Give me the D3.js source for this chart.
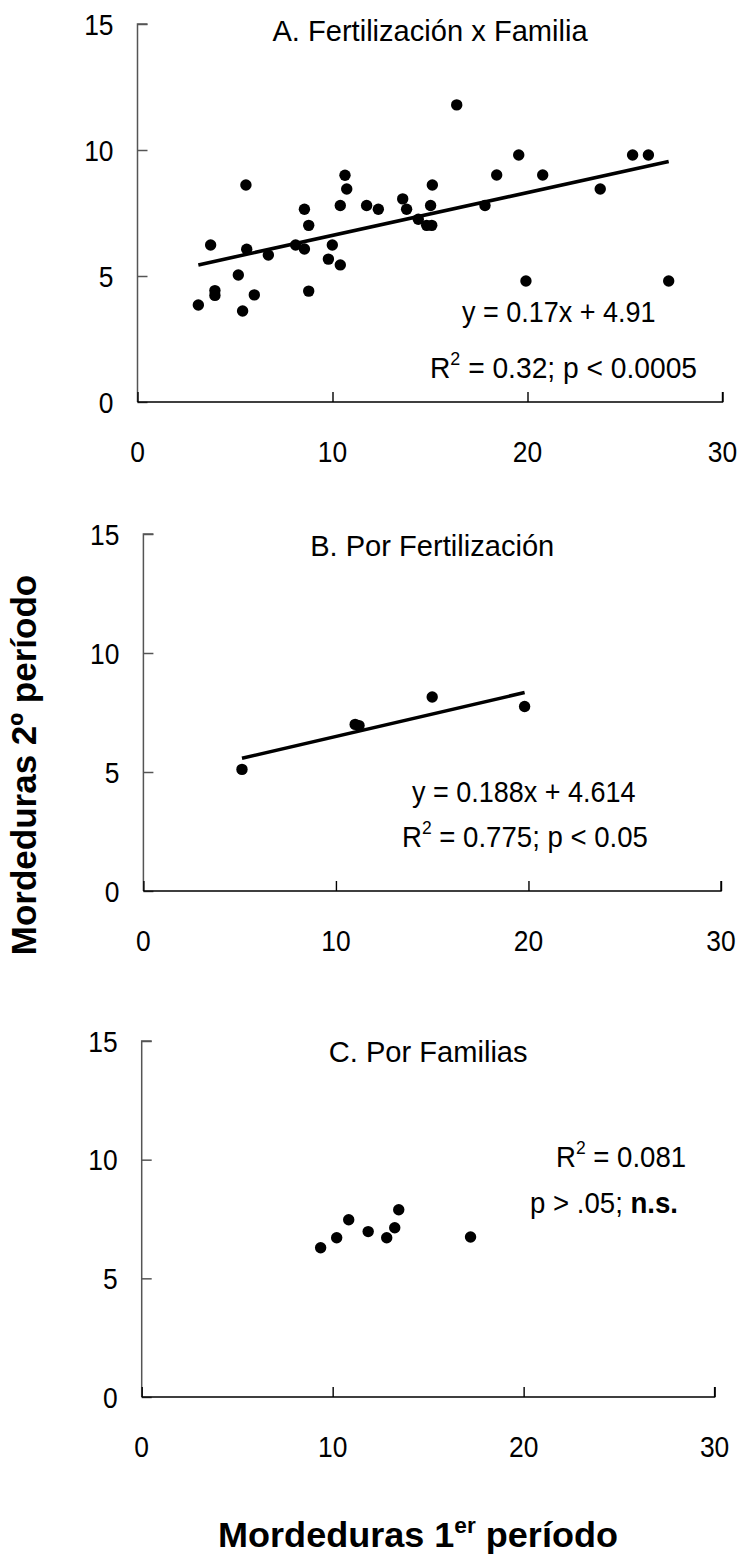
<!DOCTYPE html>
<html>
<head>
<meta charset="utf-8">
<script src="https://cdn.jsdelivr.net/npm/d3@7"></script>
<style>
  body { margin: 0; background: #fff; }
  text { font-family: "Liberation Sans", Arial, sans-serif; fill: #000; }
</style>
</head>
<body>
<svg id="chart" width="739" height="1567"></svg>
<script>
// Panel A: every fertilization x family combination
const famFertX = [3.12, 3.75, 3.97, 3.97, 5.17, 5.39, 5.56, 5.6, 5.99, 6.71,
                  8.11, 8.56, 8.56, 8.78, 8.78, 9.79, 9.99, 10.4, 10.4, 10.64,
                  10.73, 11.75, 12.35, 13.6, 13.8, 14.4, 14.83, 15.09, 15.03, 15.12,
                  16.37, 17.82, 18.42, 19.55, 19.92, 20.78, 23.73, 25.39, 26.2, 27.24];
const famFertY = [3.85, 6.23, 4.42, 4.23, 5.04, 3.61, 8.61, 6.06, 4.25, 5.83,
                  6.23, 7.65, 6.07, 7.01, 4.40, 5.67, 6.23, 7.8, 5.44, 9.0,
                  8.45, 7.8, 7.65, 8.06, 7.65, 7.25, 7.01, 7.01, 7.8, 8.61,
                  11.79, 7.8, 9.01, 9.8, 4.8, 9.01, 8.45, 9.8, 9.8, 4.8];
// Panel B: means by fertilization level
const fertX = [5.12, 11.0, 11.2, 15.0, 19.8];
const fertY = [5.11, 7.0, 6.95, 8.15, 7.75];
// Panel C: means by family
const famX = [9.37, 10.21, 10.84, 11.86, 12.83, 13.25, 13.46, 17.22];
const famY = [6.29, 6.71, 7.47, 6.97, 6.71, 7.13, 7.89, 6.74];

const xTicks = [0, 10, 20, 30];
const yTicks = [0, 5, 10, 15];
const panelTitles = ["A. Fertilización x Familia", "B. Por Fertilización", "C. Por Familias"];
const fitA = { slope: 0.17, intercept: 4.91 };
const fitB = { slope: 0.188, intercept: 4.614 };

const svg = d3.select("#chart");

// text drawn with a slightly condensed face
function label(parent, x, y, str, opt = {}) {
  const g = parent.append("g")
    .attr("transform", `translate(${x},${y}) scale(${opt.sx ?? 0.88},1)`);
  const t = g.append("text")
    .attr("font-size", opt.size ?? 30)
    .attr("text-anchor", opt.anchor ?? "start");
  if (opt.weight) t.attr("font-weight", opt.weight);
  if (str !== null) t.text(str);
  return t;
}

const panels = [
  { x: famFertX, y: famFertY, title: panelTitles[0], fit: fitA,
    left: 137.5, right: 722.5, top: 24, bottom: 402, titleY: 41 },
  { x: fertX, y: fertY, title: panelTitles[1], fit: fitB,
    left: 143.4, right: 721, top: 534, bottom: 891, titleY: 556 },
  { x: famX, y: famY, title: panelTitles[2], fit: null,
    left: 141.7, right: 714.6, top: 1041, bottom: 1397, titleY: 1062 }
];

panels.forEach(p => {
  const xs = d3.scaleLinear().domain([0, 30]).range([p.left, p.right]);
  const ys = d3.scaleLinear().domain([0, 15]).range([p.bottom, p.top]);
  const g = svg.append("g");

  // y axis, ticks pointing into the plot
  const ya = g.append("g").attr("transform", `translate(${p.left},0)`)
    .call(d3.axisRight(ys).tickValues(yTicks).tickSize(10).tickFormat(""));
  ya.selectAll("path, line").attr("stroke", "#555").attr("stroke-width", 1.5);
  ya.select(".domain").attr("d", `M10,${p.top}H0V${p.bottom}`);

  // x axis, ticks pointing up
  const xa = g.append("g").attr("transform", `translate(0,${p.bottom})`)
    .call(d3.axisTop(xs).tickValues(xTicks).tickSize(10).tickFormat(""));
  xa.selectAll("path, line").attr("stroke", "#000").attr("stroke-width", 1.4);
  xa.select(".domain").attr("d", `M${p.left},0H${p.right}V-10`);

  // tick labels
  yTicks.forEach(d => label(g, p.left - 24, ys(d) + 10.5, String(d), { anchor: "end" }));
  xTicks.forEach(d => label(g, xs(d), p.bottom + 60, String(d), { anchor: "middle" }));

  // panel title
  label(g, (p.left + p.right) / 2, p.titleY, p.title, { anchor: "middle", sx: 0.97 });

  // fitted line over the range of the data
  if (p.fit) {
    const [x0, x1] = d3.extent(p.x);
    g.append("line")
      .attr("x1", xs(x0)).attr("y1", ys(p.fit.slope * x0 + p.fit.intercept))
      .attr("x2", xs(x1)).attr("y2", ys(p.fit.slope * x1 + p.fit.intercept))
      .attr("stroke", "#000").attr("stroke-width", 3.6);
  }

  // points
  g.selectAll("circle").data(p.x.map((v, i) => [v, p.y[i]])).join("circle")
    .attr("cx", d => xs(d[0])).attr("cy", d => ys(d[1]))
    .attr("r", 5.7).attr("fill", "#000");
});

// statistics annotations
function rLine(x, y, rest, sx) {
  const t = label(svg, x, y, null, { sx });
  t.append("tspan").text("R");
  t.append("tspan").attr("dy", -13).attr("font-size", 19).text("2");
  t.append("tspan").attr("dy", 13).text(rest);
  return t;
}
label(svg, 462, 322, "y = 0.17x + 4.91", { sx: 0.9 });
rLine(430, 378, " = 0.32; p < 0.0005", 0.94);
label(svg, 412, 802, "y = 0.188x + 4.614", { sx: 0.9 });
rLine(402, 847, " = 0.775; p < 0.05", 0.92);
rLine(556, 1167, " = 0.081", 0.92);
const pc = label(svg, 530, 1213, null, { sx: 0.92 });
pc.append("tspan").text("p > .05; ");
pc.append("tspan").attr("font-weight", "bold").text("n.s.");

// shared axis titles
label(svg, 36, 765, "Mordeduras 2º período",
      { anchor: "middle", size: 35, weight: "bold", sx: 1 })
  .attr("transform", "rotate(-90)");
const xt = label(svg, 418, 1547, null, { anchor: "middle", size: 35, weight: "bold", sx: 1.03 });
xt.append("tspan").text("Mordeduras 1");
xt.append("tspan").attr("dy", -14).attr("font-size", 22).text("er");
xt.append("tspan").attr("dy", 14).text(" período");
</script>
</body>
</html>
